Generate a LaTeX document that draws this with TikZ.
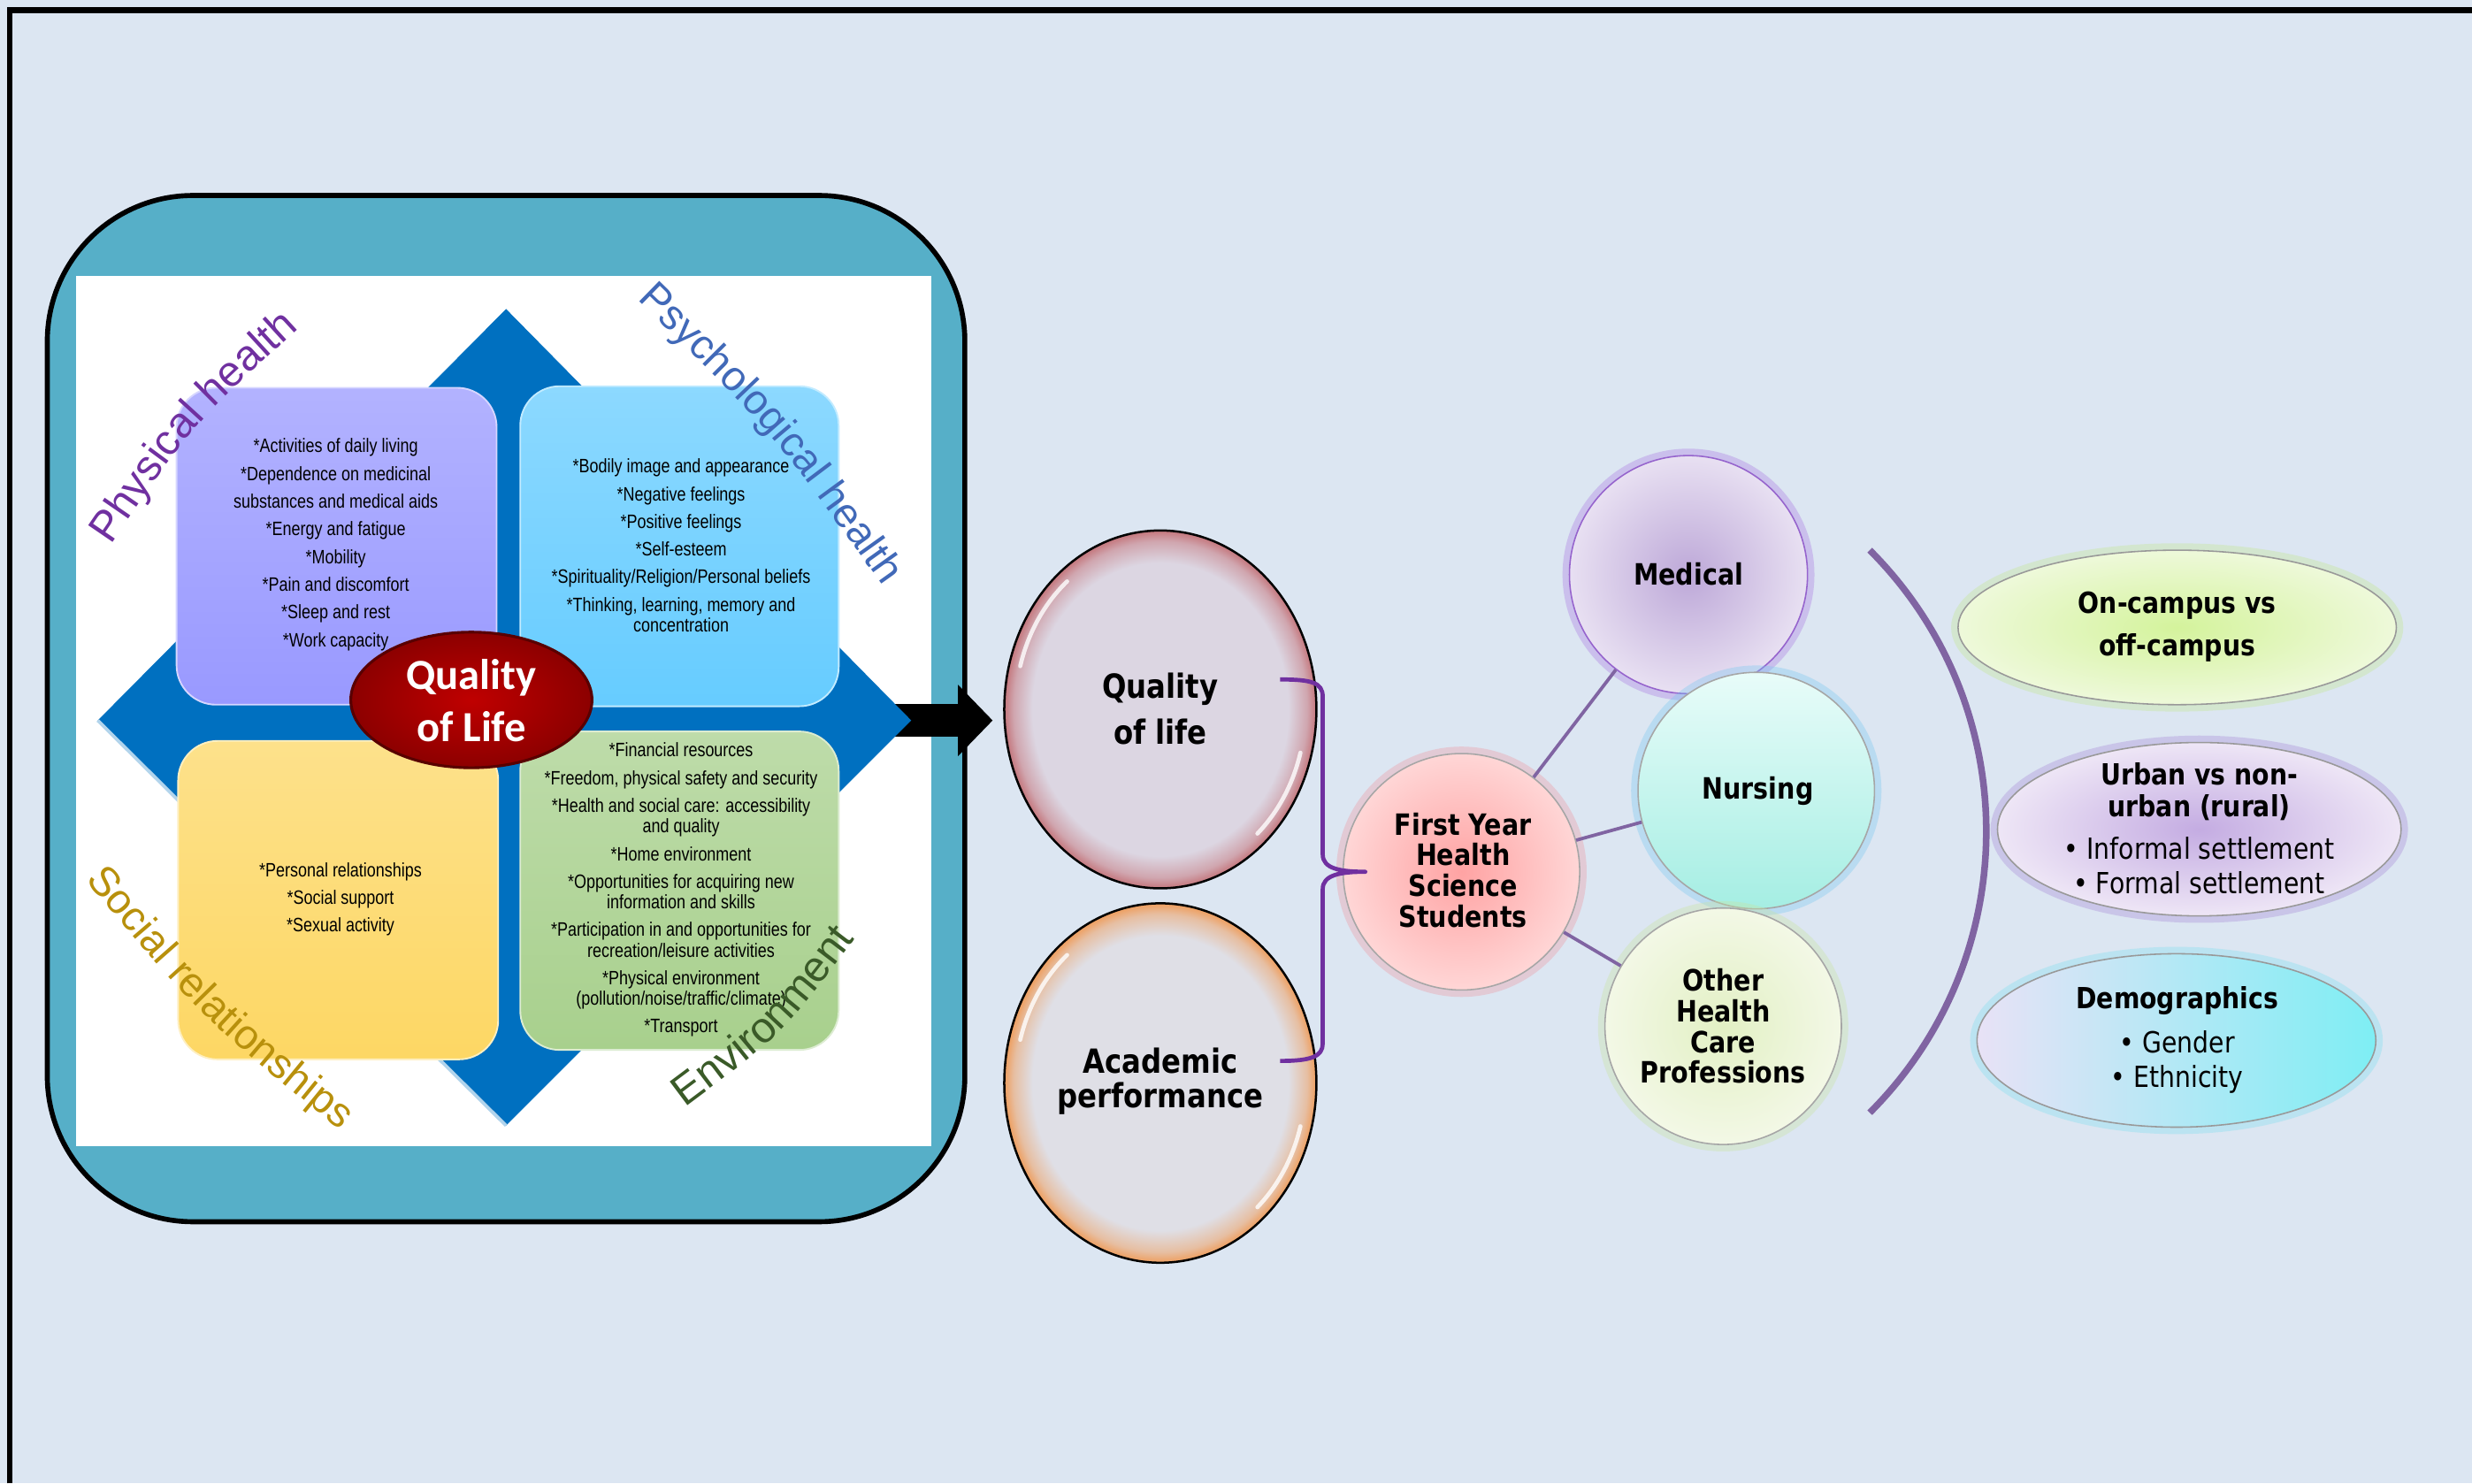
\documentclass[tikz,border=0pt]{standalone}
\usepackage{fontspec}
\setmainfont{Liberation Sans}
\newfontfamily\narrowfont[FakeStretch=0.82]{Liberation Sans}
\newfontfamily\tahfont[FakeStretch=0.86]{DejaVu Sans}
\newfontfamily\calfont{Carlito}
\usetikzlibrary{positioning, arrows.meta, calc, shapes.geometric, decorations.text}

\definecolor{pagebg}{HTML}{DCE6F2}
\definecolor{tealbox}{HTML}{56AFC8}
\definecolor{diablue}{HTML}{0070C0}
\definecolor{physbox}{HTML}{9999FF}
\definecolor{psybox}{HTML}{66CCFF}
\definecolor{socbox}{HTML}{FDD764}
\definecolor{envbox}{HTML}{A8D08D}
\definecolor{physcol}{HTML}{7030A0}
\definecolor{psycol}{HTML}{4169B8}
\definecolor{soccol}{HTML}{B8900C}
\definecolor{envcol}{HTML}{3A5A28}
\definecolor{linkcol}{HTML}{8064A2}
\definecolor{bracecol}{HTML}{7030A0}
\definecolor{qolin}{HTML}{DCD6E2}
\definecolor{qolrim}{HTML}{C4767C}
\definecolor{acin}{HTML}{DFDFE6}
\definecolor{acrim}{HTML}{EE9E5E}
\definecolor{fyin}{HTML}{FFA3A3}
\definecolor{fyrim}{HTML}{FFD6D6}
\definecolor{fyglow}{HTML}{F096A0}
\definecolor{medin}{HTML}{BDA8D8}
\definecolor{medrim}{HTML}{E8E0F2}
\definecolor{medline}{HTML}{9664CD}
\definecolor{medglow}{HTML}{AA78E1}
\definecolor{nurtop}{HTML}{E8FCF9}
\definecolor{nurbot}{HTML}{A5EEE3}
\definecolor{nurglow}{HTML}{78C8F0}
\definecolor{othin}{HTML}{E2F0C4}
\definecolor{othrim}{HTML}{F3F8E6}
\definecolor{othglow}{HTML}{C8E4A0}
\definecolor{onin}{HTML}{D4F39C}
\definecolor{onrim}{HTML}{EEF9DA}
\definecolor{onglow}{HTML}{C4E890}
\definecolor{urbin}{HTML}{C4ACE2}
\definecolor{urbrim}{HTML}{EEE6F6}
\definecolor{urbglow}{HTML}{A888D8}
\definecolor{demleft}{HTML}{E8E2F6}
\definecolor{demright}{HTML}{7EEEF4}
\definecolor{demglow}{HTML}{80E0F0}

\pgfdeclareradialshading{qolshade}{\pgfpoint{0bp}{0bp}}{color(0bp)=(qolin); color(20.5bp)=(qolin); color(23.5bp)=(qolrim!50!qolin); color(25bp)=(qolrim); color(50bp)=(qolrim)}
\pgfdeclareradialshading{acshade}{\pgfpoint{0bp}{0bp}}{color(0bp)=(acin); color(20.5bp)=(acin); color(23.5bp)=(acrim!50!acin); color(25bp)=(acrim); color(50bp)=(acrim)}
\pgfdeclareradialshading{fyshade}{\pgfpoint{0bp}{0bp}}{color(0bp)=(fyin); color(25bp)=(fyrim); color(50bp)=(fyrim)}
\pgfdeclareradialshading{medshade}{\pgfpoint{0bp}{0bp}}{color(0bp)=(medin); color(25bp)=(medrim); color(50bp)=(medrim)}
\pgfdeclareradialshading{othshade}{\pgfpoint{0bp}{0bp}}{color(0bp)=(othin); color(25bp)=(othrim); color(50bp)=(othrim)}
\pgfdeclareradialshading{onshade}{\pgfpoint{0bp}{0bp}}{color(0bp)=(onin); color(25bp)=(onrim); color(50bp)=(onrim)}
\pgfdeclareradialshading{urbshade}{\pgfpoint{0bp}{0bp}}{color(0bp)=(urbin); color(25bp)=(urbrim); color(50bp)=(urbrim)}

\newcommand{\itemfont}{\narrowfont\fontsize{7}{7.4}\selectfont}
\newcommand{\qgap}{2.6pt}
\newcommand{\wafont}{\fontsize{15}{15}\selectfont}

\begin{document}
\begin{tikzpicture}[x=0.2mm, y=-0.2mm,
    dom/.style={rounded corners=5mm, draw=white!60!#1, line width=0.6pt,
                top color=white!25!#1, bottom color=#1},
    items/.style={align=center, inner sep=0pt, font=\itemfont},
    wa/.style={decorate, decoration={text along path, text align=center, text color=#1}},
    glow/.style={preaction={draw=#1, line width=5pt, opacity=0.35}},
    bubble/.style={ellipse, shade, draw=black, line width=0.8pt, inner sep=0pt,
                   minimum width=39.6mm, minimum height=45.4mm},
    hilite/.style={white, line width=1.5pt, opacity=0.8, line cap=round},
    ring/.style={circle, shade, inner sep=0pt, minimum size=30mm, draw=gray!70, line width=0.5pt},
    oval/.style={ellipse, shade, inner sep=0pt, draw=gray!80, line width=0.5pt},
    link/.style={draw=linkcol, line width=1.2pt},
    btxt/.style={align=center, inner sep=0pt},
    bigarrow/.style={line width=12pt, -{Triangle[length=12.5pt, width=25pt]}}
  ]
  \useasboundingbox (0,0) rectangle (1568,941);
  \fill[pagebg] (0,0) rectangle (1568,941);
  \draw[line width=2pt] (6,941) -- (6,6.5) -- (1568,6.5);

  % WHOQOL domains panel
  \draw[fill=tealbox, line width=1.8pt, rounded corners=18.5mm] (30,124) rectangle (612,775);
  \fill[white] (48,175) rectangle (591,727);
  \coordinate (diatip) at (567,457);
  \node[ellipse, minimum width=39.6mm, minimum height=45.2mm, inner sep=0pt] (qolc) at (736,450) {};
  \draw[bigarrow] (diatip) -- ([xshift=-1.4mm]diatip -| qolc.west);
  \fill[diablue] (321,196) -- (578,457) -- (321,714) -- (62,457) -- cycle;
  \draw[white!70!diablue, line width=1.2pt] (62,457) -- (321,714);

  \path[dom=physbox] (112,246) rectangle (315,447);
  \path[dom=psybox] (330,245) rectangle (532,448);
  \path[dom=socbox] (113,470) rectangle (316,672);
  \path[dom=envbox] (330,464) rectangle (532,666);

  \node[items] (phystxt) at (213,345.5) {*Activities of daily living\\[\qgap]*Dependence on medicinal\\[\qgap]substances and medical aids\\[\qgap]*Energy and fatigue\\[\qgap]*Mobility\\[\qgap]*Pain and discomfort\\[\qgap]*Sleep and rest\\[\qgap]*Work capacity};
  \node[items] (psytxt) at (432,346) {*Bodily image and appearance\\[\qgap]*Negative feelings\\[\qgap]*Positive feelings\\[\qgap]*Self-esteem\\[\qgap]*Spirituality/Religion/Personal beliefs\\[\qgap]*Thinking, learning, memory and\\concentration};
  \node[items] (soctxt) at (216,570.5) {*Personal relationships\\[\qgap]*Social support\\[\qgap]*Sexual activity};
  \node[items] (envtxt) at (432,564.5) {*Financial resources\\[\qgap]*Freedom, physical safety and security\\[\qgap]*Health and social care: accessibility\\and quality\\[\qgap]*Home environment\\[\qgap]*Opportunities for acquiring new\\information and skills\\[\qgap]*Participation in and opportunities for\\recreation/leisure activities\\[\qgap]*Physical environment\\(pollution/noise/traffic/climate)\\[\qgap]*Transport};

  % curved domain titles
  \path[wa=physcol, decoration={text={|\fontsize{15.5}{15.5}\selectfont|Physical health}}] (70,346) .. controls (121.9,270) .. (190,208);
  \path[wa=psycol, decoration={text={|\wafont|Psychological health}}] (404,190) .. controls (490.1,274) .. (560,372);
  \path[wa=soccol, decoration={text={|\wafont|Social relationships}}] (54,558) .. controls (127.5,645.1) .. (216,717);
  \path[wa=envcol, decoration={text={|\fontsize{15.5}{15.5}\selectfont|Environment}}] (434,703) .. controls (496.1,656.6) .. (543,595);

  \node[ellipse, shade, inner color=red!75!black, outer color=red!55!black, draw=red!35!black,
        line width=1pt, minimum width=30.6mm, minimum height=17.2mm] (qolred) at (299,444) {};
  \node[btxt, text=white, font=\calfont\bfseries\fontsize{15.5}{18.8}\selectfont] (qolredtxt) at (299,444.5) {Quality\\of Life};

  % outcome bubbles
  \node[bubble, shading=qolshade] (qol) at (736,450) {};
  \node[bubble, shading=acshade, minimum height=45.6mm] (acad) at (736,687) {};
  \foreach \b in {qol, acad} {
    \draw[hilite] (\b.center) ++(195:92 and 106) arc[start angle=195, end angle=230, x radius=92, y radius=106];
    \draw[hilite] (\b.center) ++(15:92 and 106) arc[start angle=15, end angle=48, x radius=92, y radius=106];
  }
  \node[btxt, font=\tahfont\bfseries\fontsize{12}{16.5}\selectfont] (qoltxt) at (736,449.5) {Quality\\of life};
  \node[btxt, font=\tahfont\bfseries\fontsize{12}{12.5}\selectfont] (acadtxt) at (736,686) {Academic\\performance};

  % student groups
  \node[ring, shading=fyshade, glow=fyglow] (fy) at (927,553) {};
  \node[ring, shading=medshade, draw=medline, glow=medglow, minimum size=30.2mm] (med) at (1071,364.5) {};
  \node[ring, top color=nurtop, bottom color=nurbot, glow=nurglow] (nur) at (1114,501.5) {};
  \node[ring, shading=othshade, glow=othglow] (oth) at (1093,651) {};
  \draw[link] (fy) -- (med);
  \draw[link] (fy) -- (nur);
  \draw[link] (fy) -- (oth);

  \node[btxt, font=\tahfont\bfseries\fontsize{10.6}{11.1}\selectfont] (fytxt) at (928,552) {First Year\\Health\\Science\\Students};
  \node[btxt, font=\tahfont\bfseries\fontsize{10.6}{11.1}\selectfont] (medtxt) at (1071,364) {Medical};
  \node[btxt, font=\tahfont\bfseries\fontsize{10.6}{11.1}\selectfont] (nurtxt) at (1115,502) {Nursing};
  \node[btxt, font=\tahfont\bfseries\fontsize{10.6}{11.1}\selectfont] (othtxt) at (1093,651) {Other\\Health\\Care\\Professions};

  % brace joining the two outcomes
  \draw[bracecol, line width=1.5pt, line join=round]
    (812,431) .. controls (832,431) and (839,433) .. (839,442) -- (839,542)
    .. controls (839,551) and (850,553) .. (866,553)
    .. controls (850,553) and (839,555) .. (839,564) -- (839,662)
    .. controls (839,670) and (832,673) .. (812,673);

  % factors
  \draw[linkcol, line width=2.4pt] (1186,349) arc[start angle=-45, end angle=45, radius=252.3];
  \node[oval, shading=onshade, glow=onglow, minimum width=55.6mm, minimum height=19.6mm] (camp) at (1381,398) {};
  \node[oval, shading=urbshade, glow=urbglow, minimum width=51.2mm, minimum height=22mm] (urb) at (1395,526) {};
  \node[oval, left color=demleft, right color=demright, glow=demglow, minimum width=50.6mm, minimum height=22mm] (demo) at (1380.5,660) {};

  \node[btxt, font=\tahfont\bfseries\fontsize{10.5}{15.4}\selectfont] (camptxt) at (1381,397.5) {On-campus vs\\off-campus};
  \node[btxt, font=\tahfont\fontsize{10.5}{11.4}\selectfont] (urbtxt) at (1395,525.5) {\bfseries Urban vs non-\\\bfseries urban (rural)\\[4pt]• Informal settlement\\[1.1pt]• Formal settlement};
  \node[btxt, font=\tahfont\fontsize{10.5}{12.2}\selectfont] (demotxt) at (1381,659.5) {\bfseries Demographics\\[4pt]• Gender\\• Ethnicity};
\end{tikzpicture}
\end{document}
